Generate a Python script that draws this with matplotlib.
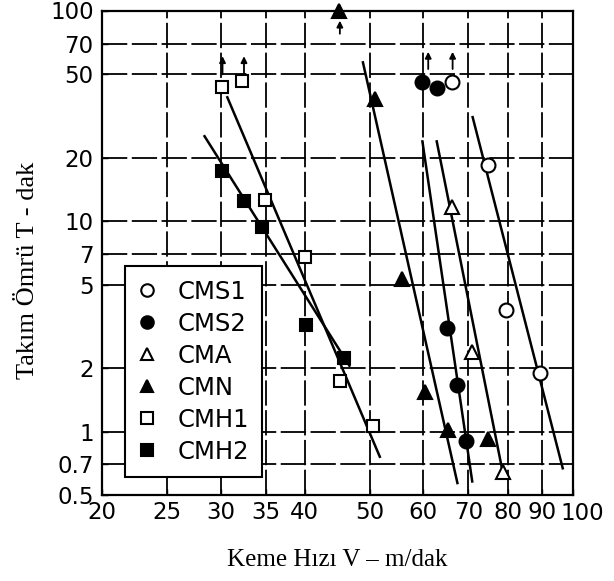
import matplotlib
matplotlib.use('Agg')
import matplotlib.pyplot as plt
from matplotlib.ticker import NullLocator, FixedLocator, FixedFormatter

plt.rcParams['font.family'] = ['DejaVu Sans']

# deney noktalari: kesme hizi V (m/dak), takim omru T (dak)
cms1_v = [66.1, 74.8, 79.6, 89.4]
cms1_t = [45.9, 18.5, 3.8, 1.9]
cms2_v = [59.8, 62.8, 65.1, 67.3, 69.4]
cms2_t = [45.9, 43.0, 3.1, 1.66, 0.90]
cma_v = [66.1, 70.9, 78.7]
cma_t = [11.7, 2.4, 0.64]
cmn_v = [44.9, 50.9, 55.7, 60.4, 65.3, 74.8]
cmn_t = [100, 38, 5.3, 1.55, 1.02, 0.92]
cmh1_v = [30.1, 32.3, 34.9, 40.0, 45.1, 50.5]
cmh1_t = [43.6, 46.4, 12.7, 6.8, 1.75, 1.07]
cmh2_v = [30.1, 32.5, 34.6, 40.2, 45.7]
cmh2_t = [17.3, 12.5, 9.4, 3.23, 2.25]

# uydurulmus dogrularin uclari
line_v = [[30.7, 51.7], [28.4, 46.6], [48.8, 67.4],
          [59.8, 70.9], [62.8, 78.4], [71.0, 96.6]]
line_t = [[38.9, 0.76], [25.4, 2.06], [57, 0.57],
          [24, 0.58], [24, 0.68], [31.3, 0.67]]

# kirilmayan takimlar (yukari oklar)
arrow_v = [30.2, 32.5, 45.1, 61.0, 66.3]
arrow_t0 = [50, 50, 78, 53, 53]
arrow_t1 = [61, 61, 90, 64, 64]

x_ticks = [20, 25, 30, 35, 40, 50, 60, 70, 80, 90, 100]
x_labels = ['20', '25', '30', '35', '40', '50', '60', '70', '80', '90', '']
y_ticks = [0.5, 0.7, 1, 2, 5, 7, 10, 20, 50, 70, 100]
y_labels = ['0.5', '0.7', '1', '2', '5', '7', '10', '20', '50', '70', '']

fig = plt.figure(figsize=(6.14, 5.81), dpi=100)
ax = fig.add_axes([0.166, 0.148, 0.767, 0.833])
ax.set_xscale('log')
ax.set_yscale('log')
ax.set_xlim(20, 100)
ax.set_ylim(0.5, 100)

ax.xaxis.set_major_locator(FixedLocator(x_ticks))
ax.xaxis.set_major_formatter(FixedFormatter(x_labels))
ax.yaxis.set_major_locator(FixedLocator(y_ticks))
ax.yaxis.set_major_formatter(FixedFormatter(y_labels))
ax.xaxis.set_minor_locator(NullLocator())
ax.yaxis.set_minor_locator(NullLocator())
ax.tick_params(direction='in', length=4, width=1, labelsize=16.5, color='black')
ax.tick_params(axis='y', pad=6)
ax.tick_params(axis='x', pad=4)
# uc etiketler: 100 (x) biraz sagda, 100 (y) en ustte
ax.annotate('100', xy=(100, 0.5), xytext=(7, -5), textcoords='offset points',
            ha='center', va='top', fontsize=16.5, annotation_clip=False)
ax.annotate('100', xy=(20, 100), xytext=(-6, -1), textcoords='offset points',
            ha='right', va='center', fontsize=16.5, annotation_clip=False)

ax.grid(True, color='black', lw=1.3, ls=(0, (14, 2.5)))
for s in ax.spines.values():
    s.set_linewidth(1.6)

for v, t in zip(line_v, line_t):
    ax.plot(v, t, color='black', lw=1.8, zorder=3)

style = dict(ls='none', mec='black', mew=1.5, clip_on=False, zorder=5)
ax.plot(cms1_v, cms1_t, marker='o', mfc='white', ms=10, label='CMS1', **style)
ax.plot(cms2_v, cms2_t, marker='o', mfc='black', ms=10, label='CMS2', **style)
ax.plot(cma_v, cma_t, marker='^', mfc='white', ms=10, label='CMA', **style)
ax.plot(cmn_v, cmn_t, marker='^', mfc='black', ms=10, label='CMN', **style)
ax.plot(cmh1_v, cmh1_t, marker='s', mfc='white', ms=9, label='CMH1', **style)
ax.plot(cmh2_v, cmh2_t, marker='s', mfc='black', ms=9, label='CMH2', **style)

for v, t0, t1 in zip(arrow_v, arrow_t0, arrow_t1):
    ax.annotate('', xy=(v, t1), xytext=(v, t0),
                arrowprops=dict(arrowstyle='-|>', color='black', lw=1.3,
                                mutation_scale=9, shrinkA=0, shrinkB=0))

leg = ax.legend(loc='lower left', bbox_to_anchor=(0.049, 0.037),
                borderaxespad=0, fontsize=17.5, frameon=True, fancybox=False,
                framealpha=1, edgecolor='black', handlelength=0.7,
                handletextpad=0.9, labelspacing=0.33, borderpad=0.55,
                markerscale=0.9)
leg.get_frame().set_linewidth(1.5)
leg.set_zorder(10)

fig.text(0.046, 0.535, 'Takım Ömrü T - dak', rotation=90, ha='center', va='center',
         fontsize=19, family=['Liberation Serif', 'DejaVu Serif'])
fig.text(0.549, 0.036, 'Keme Hızı V – m/dak', ha='center', va='center',
         fontsize=18, family=['Liberation Serif', 'DejaVu Serif'])

fig.savefig('out.png', dpi=100, facecolor='white')
